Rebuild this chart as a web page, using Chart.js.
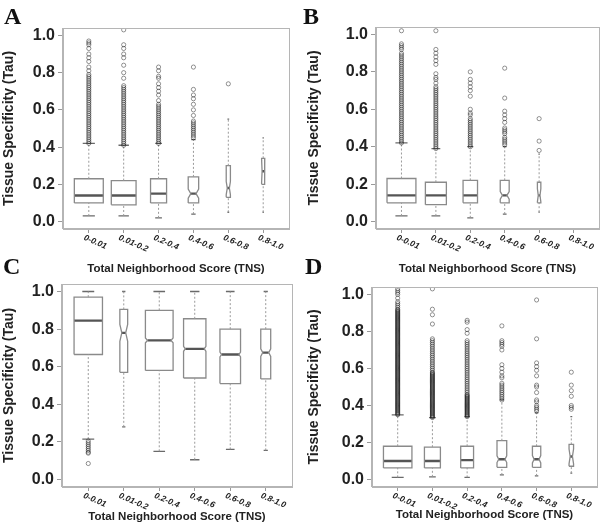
<!DOCTYPE html>
<html><head><meta charset="utf-8">
<script src="https://cdn.jsdelivr.net/npm/chart.js@4.4.0/dist/chart.umd.min.js"></script>
<style>
html,body{margin:0;padding:0;background:#fff}
body{width:600px;height:531px;overflow:hidden;position:relative}
canvas{position:absolute}
.lbl{position:absolute;font:bold 24px "Liberation Serif","Times New Roman",serif;line-height:24px;color:#111}
</style></head><body>
<canvas id="cA" width="300" height="280" style="left:0;top:0"></canvas>
<canvas id="cB" width="302" height="280" style="left:300px;top:0"></canvas>
<canvas id="cC" width="300" height="261" style="left:0;top:270px"></canvas>
<canvas id="cD" width="300" height="261" style="left:300px;top:270px"></canvas>
<div class="lbl" style="left:4px;top:4px">A</div>
<div class="lbl" style="left:303px;top:4px">B</div>
<div class="lbl" style="left:3px;top:254px">C</div>
<div class="lbl" style="left:305px;top:254px">D</div>
<script>
// ---------- shared labels ----------
const categories = ['0-0.01','0.01-0.2','0.2-0.4','0.4-0.6','0.6-0.8','0.8-1.0'];
const yTickValues = [0.0,0.2,0.4,0.6,0.8,1.0];
const xTitle = 'Total Neighborhood Score (TNS)';
const yTitle = 'Tissue Specificity (Tau)';

// ---------- Panel A ----------
const A_q1     = [0.10,0.09,0.10,0.10,0.13,0.20];
const A_median = [0.14,0.14,0.15,0.15,0.18,0.27];
const A_q3     = [0.23,0.22,0.23,0.24,0.30,0.34];
const A_wLow   = [0.03,0.03,0.02,0.04,0.05,0.05];
const A_wHigh  = [0.42,0.41,0.42,0.44,0.55,0.45];
const A_notch  = [0,0,0,0.025,0.035,0.06];
const A_outliers = [
  [0.42,0.43,0.44,0.45,0.46,0.47,0.48,0.49,0.50,0.51,0.52,0.53,0.54,0.55,0.56,0.57,0.58,0.59,0.60,0.61,0.62,0.63,0.64,0.65,0.66,0.67,0.68,0.69,0.70,0.71,0.72,0.73,0.74,0.75,0.76,0.77,0.78,0.79,0.81,0.83,0.86,0.88,0.90,0.93,0.95,0.96,0.97],
  [0.41,0.42,0.43,0.44,0.45,0.46,0.47,0.48,0.49,0.50,0.51,0.52,0.53,0.54,0.55,0.56,0.57,0.58,0.59,0.60,0.61,0.62,0.63,0.64,0.65,0.66,0.67,0.68,0.69,0.70,0.71,0.72,0.73,0.77,0.80,0.84,0.88,0.90,0.93,0.95,1.03],
  [0.42,0.43,0.44,0.45,0.46,0.47,0.48,0.49,0.50,0.51,0.52,0.53,0.54,0.55,0.56,0.57,0.58,0.59,0.60,0.61,0.62,0.63,0.65,0.68,0.70,0.72,0.74,0.77,0.78,0.81,0.83],
  [0.45,0.46,0.47,0.48,0.49,0.50,0.51,0.52,0.53,0.54,0.57,0.60,0.63,0.66,0.68,0.71,0.83],
  [0.74],
  []
];

// ---------- Panel B ----------
const B_q1     = [0.10,0.09,0.10,0.10,0.10,null];
const B_median = [0.14,0.14,0.14,0.14,0.14,null];
const B_q3     = [0.23,0.21,0.22,0.22,0.21,null];
const B_wLow   = [0.03,0.03,0.02,0.04,0.05,null];
const B_wHigh  = [0.42,0.39,0.40,0.40,0.36,null];
const B_notch  = [0,0,0,0.02,0.035,0];
const B_outliers = [
  [0.42,0.43,0.44,0.45,0.46,0.47,0.48,0.49,0.50,0.51,0.52,0.53,0.54,0.55,0.56,0.57,0.58,0.59,0.60,0.61,0.62,0.63,0.64,0.65,0.66,0.67,0.68,0.69,0.70,0.71,0.72,0.73,0.74,0.75,0.76,0.77,0.78,0.79,0.80,0.81,0.82,0.83,0.84,0.85,0.86,0.87,0.88,0.89,0.90,0.92,0.93,0.94,0.95,1.02],
  [0.39,0.40,0.41,0.42,0.43,0.44,0.45,0.46,0.47,0.48,0.49,0.50,0.51,0.52,0.53,0.54,0.55,0.56,0.57,0.58,0.59,0.60,0.61,0.62,0.63,0.64,0.65,0.66,0.67,0.68,0.69,0.70,0.71,0.72,0.74,0.76,0.77,0.79,0.84,0.86,0.88,0.90,0.92,1.02],
  [0.40,0.41,0.42,0.43,0.44,0.45,0.46,0.47,0.48,0.49,0.50,0.51,0.52,0.53,0.54,0.55,0.57,0.58,0.60,0.67,0.70,0.72,0.74,0.76,0.80],
  [0.41,0.42,0.43,0.44,0.45,0.47,0.48,0.49,0.50,0.53,0.55,0.57,0.59,0.66,0.82],
  [0.38,0.43,0.55],
  []
];

// ---------- Panel C ----------
const C_q1     = [0.665,0.57,0.58,0.54,0.51,0.535];
const C_median = [0.845,0.78,0.74,0.695,0.665,0.675];
const C_q3     = [0.97,0.905,0.90,0.855,0.80,0.80];
const C_wLow   = [0.215,0.28,0.15,0.105,0.16,0.155];
const C_wHigh  = [1.0,1.0,1.0,1.0,1.0,1.0];
const C_notch  = [0,0.045,0.013,0.013,0.013,0.02];
const C_outliers = [
  [0.205,0.195,0.185,0.175,0.165,0.155,0.145,0.14,0.085],
  [],[],[],[],[]
];

// ---------- Panel D ----------
const D_q1     = [0.063,0.063,0.063,0.066,0.066,0.072];
const D_median = [0.10,0.10,0.105,0.11,0.11,0.125];
const D_q3     = [0.18,0.175,0.18,0.21,0.18,0.19];
const D_wLow   = [0.012,0.015,0.012,0.025,0.02,0.035];
const D_wHigh  = [0.35,0.335,0.34,0.43,0.36,0.34];
const D_notch  = [0,0,0,0.018,0.02,0.04];
const D_outliers = [
  [0.35,0.355,0.36,0.365,0.37,0.375,0.38,0.385,0.39,0.395,0.40,0.405,0.41,0.415,0.42,0.425,0.43,0.435,0.44,0.445,0.45,0.455,0.46,0.465,0.47,0.475,0.48,0.485,0.49,0.495,
   0.50,0.505,0.51,0.515,0.52,0.525,0.53,0.535,0.54,0.545,0.55,0.555,0.56,0.565,0.57,0.575,0.58,0.585,0.59,0.595,0.60,0.605,0.61,0.615,0.62,0.625,0.63,0.635,0.64,0.645,
   0.65,0.655,0.66,0.665,0.67,0.675,0.68,0.685,0.69,0.695,0.70,0.705,0.71,0.715,0.72,0.725,0.73,0.735,0.74,0.745,0.75,0.755,0.76,0.765,0.77,0.775,0.78,0.785,0.79,0.795,
   0.80,0.805,0.81,0.815,0.82,0.825,0.83,0.835,0.84,0.845,0.85,0.855,0.86,0.865,0.87,0.875,0.88,0.885,0.89,0.895,0.90,0.905,0.91,0.915,0.92,0.93,0.94,0.95,0.96,0.98,1.00,1.01,1.02,1.03],
  [0.335,0.34,0.345,0.35,0.355,0.36,0.365,0.37,0.375,0.38,0.385,0.39,0.395,0.40,0.405,0.41,0.415,0.42,0.425,0.43,0.435,0.44,0.445,0.45,0.455,0.46,0.465,0.47,0.475,0.48,
   0.485,0.49,0.495,0.50,0.505,0.51,0.515,0.52,0.525,0.53,0.535,0.54,0.545,0.55,0.555,0.56,0.565,0.57,0.575,0.58,0.59,0.60,0.61,0.62,0.63,0.64,0.65,0.66,0.67,0.68,
   0.69,0.70,0.71,0.72,0.73,0.74,0.75,0.76,0.84,0.89,0.92,1.03],
  [0.34,0.345,0.35,0.355,0.36,0.365,0.37,0.375,0.38,0.385,0.39,0.395,0.40,0.405,0.41,0.415,0.42,0.425,0.43,0.435,0.44,0.445,0.45,0.455,0.46,0.47,0.48,0.49,0.50,0.51,
   0.52,0.53,0.54,0.55,0.56,0.57,0.58,0.59,0.60,0.61,0.62,0.63,0.64,0.65,0.66,0.67,0.68,0.69,0.70,0.71,0.72,0.73,0.74,0.75,0.79,0.81,0.85,0.86],
  [0.43,0.44,0.45,0.46,0.47,0.48,0.49,0.50,0.51,0.52,0.55,0.56,0.58,0.60,0.62,0.70,0.72,0.73,0.74,0.75,0.83],
  [0.37,0.38,0.39,0.40,0.42,0.43,0.47,0.50,0.51,0.56,0.59,0.61,0.63,0.76,0.97],
  [0.38,0.39,0.40,0.45,0.48,0.51,0.58]
];

// ---------- styling / layout (not data) ----------
const STYLE = {
  A:{width:[0.83,0.71,0.46,0.30,0.12,0.09], indent:[0,0,0,0.5,0.5,0.3], pad:{top:28,right:11,left:0,bottom:0}, yW:63, xH:51, yTP:0.6, xTP:4},
  B:{width:[0.84,0.61,0.42,0.26,0.10,0], indent:[0,0,0,0.5,0.5,0], pad:{top:27,right:0,left:0,bottom:0}, yW:76, xH:51, yTP:6, xTP:4},
  C:{width:[0.80,0.22,0.78,0.63,0.58,0.28], indent:[0,0.5,0.15,0.15,0.15,0.4], pad:{top:14,right:8,left:0,bottom:0}, yW:62, xH:44, yTP:0.6, xTP:7.5},
  D:{width:[0.82,0.46,0.37,0.28,0.24,0.13], indent:[0,0,0,0.35,0.4,0.5], pad:{top:17,right:3,left:0,bottom:0}, yW:72, xH:44, yTP:5.6, xTP:9}
};
const FONT = '"Liberation Sans", Arial, Helvetica, sans-serif';
const GRAY_BOX = '#8a8a8a', GRAY_WHISK = '#9a9a9a', GRAY_CAP = '#6a6a6a', MED = '#555555', PT = 'rgba(0,0,0,0.47)';

function buildDatasets(q1, med, q3, wlo, whi, notch, outliers, st) {
  const whisk = [], caps = [], boxes = [], meds = [], pts = [];
  for (let i = 0; i < categories.length; i++) {
    if (q1[i] === null) continue;
    const x = i + 1, w = st.width[i] / 2, wi = w * (1 - st.indent[i]), n = notch[i], c = w * 0.42;
    whisk.push({x, y: wlo[i]}, {x, y: q1[i]}, {x, y: null}, {x, y: q3[i]}, {x, y: whi[i]}, {x, y: null});
    caps.push({x: x - c, y: wlo[i]}, {x: x + c, y: wlo[i]}, {x, y: null}, {x: x - c, y: whi[i]}, {x: x + c, y: whi[i]}, {x, y: null});
    boxes.push({x: x - w, y: q1[i]}, {x: x - w, y: med[i] - n}, {x: x - wi, y: med[i]}, {x: x - w, y: med[i] + n},
               {x: x - w, y: q3[i]}, {x: x + w, y: q3[i]}, {x: x + w, y: med[i] + n}, {x: x + wi, y: med[i]},
               {x: x + w, y: med[i] - n}, {x: x + w, y: q1[i]}, {x: x - w, y: q1[i]}, {x, y: null});
    meds.push({x: x - wi, y: med[i]}, {x: x + wi, y: med[i]}, {x, y: null});
  }
  outliers.forEach((arr, i) => arr.forEach(v => pts.push({x: i + 1, y: v})));
  const line = (data, color, width, dash) => ({data, showLine: true, borderColor: color, borderWidth: width, borderDash: dash || [],
    pointRadius: 0, pointHoverRadius: 0, fill: false, tension: 0, spanGaps: false, borderJoinStyle: 'miter'});
  return [
    {data: pts, pointRadius: 2.1, pointHoverRadius: 2.1, pointBorderWidth: 0.9, pointBorderColor: PT, pointBackgroundColor: 'rgba(0,0,0,0)', showLine: false},
    line(whisk, GRAY_WHISK, 1, [2, 2]),
    line(caps, GRAY_CAP, 1.3),
    line(boxes, GRAY_BOX, 1.3),
    line(meds, MED, 2.4)
  ];
}

const framePlugin = {
  id: 'frame',
  afterDatasetsDraw(chart) {
    const a = chart.chartArea, ctx = chart.ctx;
    ctx.save(); ctx.strokeStyle = '#b5b5b5'; ctx.lineWidth = 1;
    ctx.strokeRect(Math.round(a.left) - 0.5, Math.round(a.top) + 0.5, Math.round(a.right - a.left) + 1, Math.round(a.bottom - a.top) - 1);
    ctx.restore();
  }
};
const xLabelPlugin = {
  id: 'xlabels',
  afterDraw(chart) {
    const s = chart.scales.x, ctx = chart.ctx;
    ctx.save();
    ctx.font = 'italic bold 8.5px ' + FONT;
    ctx.fillStyle = '#222'; ctx.textAlign = 'left'; ctx.textBaseline = 'top';
    categories.forEach((c, i) => {
      const px = s.getPixelForValue(i + 1);
      ctx.save(); ctx.translate(px - 3, s.top + 4.5); ctx.rotate(23 * Math.PI / 180); ctx.fillText(c, 0, 0); ctx.restore();
    });
    ctx.restore();
  }
};

function makePanel(id, ds, st) {
  new Chart(document.getElementById(id), {
    type: 'scatter',
    data: {datasets: ds},
    options: {
      responsive: false, animation: false, devicePixelRatio: 1,
      layout: {padding: st.pad},
      plugins: {legend: {display: false}, tooltip: {enabled: false}},
      events: [],
      scales: {
        x: {
          type: 'linear', min: 0.26, max: 6.74,
          afterBuildTicks: s => { s.ticks = categories.map((c, i) => ({value: i + 1})); },
          afterFit: s => { s.height = st.xH; },
          ticks: {display: false},
          grid: {drawOnChartArea: false, drawTicks: true, tickLength: 4, color: '#999'},
          border: {display: true, color: '#b5b5b5'},
          title: {display: true, text: xTitle, color: '#222', font: {family: FONT, size: 11.5, weight: 'bold'}, padding: {top: 0, bottom: st.xTP}}
        },
        y: {
          type: 'linear', min: -0.04, max: 1.04,
          afterBuildTicks: s => { s.ticks = yTickValues.map(v => ({value: v})); },
          afterFit: s => { s.width = st.yW; },
          ticks: {color: '#222', padding: 3, font: {family: FONT, size: 16, weight: 'bold'}, callback: v => Number(v).toFixed(1)},
          grid: {drawOnChartArea: false, drawTicks: true, tickLength: 5, color: '#999'},
          border: {display: true, color: '#b5b5b5'},
          title: {display: true, text: yTitle, color: '#222', font: {family: FONT, size: 14, weight: 'bold'}, padding: {top: st.yTP, bottom: 0}}
        }
      }
    },
    plugins: [framePlugin, xLabelPlugin]
  });
}

makePanel('cA', buildDatasets(A_q1, A_median, A_q3, A_wLow, A_wHigh, A_notch, A_outliers, STYLE.A), STYLE.A);
makePanel('cB', buildDatasets(B_q1, B_median, B_q3, B_wLow, B_wHigh, B_notch, B_outliers, STYLE.B), STYLE.B);
makePanel('cC', buildDatasets(C_q1, C_median, C_q3, C_wLow, C_wHigh, C_notch, C_outliers, STYLE.C), STYLE.C);
makePanel('cD', buildDatasets(D_q1, D_median, D_q3, D_wLow, D_wHigh, D_notch, D_outliers, STYLE.D), STYLE.D);
</script>
</body></html>
